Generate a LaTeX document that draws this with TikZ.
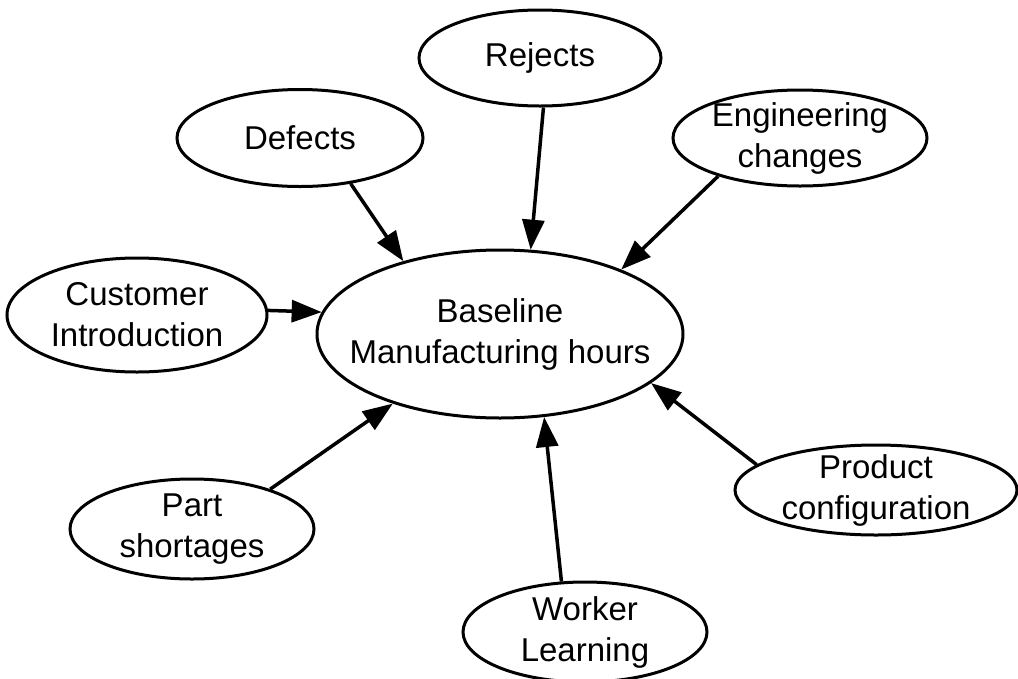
\documentclass[tikz,border=0pt]{standalone}
\usepackage{fontspec}
\setmainfont{Liberation Sans}
\usetikzlibrary{shapes.geometric,arrows.meta}
\tikzset{
  bubble/.style={ellipse, draw, line width=3pt, inner sep=0pt},
  txt/.style={align=center, inner sep=0pt, font=\fontsize{33}{41}\selectfont},
  link/.style={line width=3.5pt, -{Triangle[length=30pt,width=22pt]}}
}
\begin{document}
\begin{tikzpicture}[x=1pt,y=-1pt]
\useasboundingbox (0,0) rectangle (1018,678);
\node[bubble, minimum width=366pt, minimum height=168pt, label={[txt]center:{Baseline\\Manufacturing hours}}] (ctr) at (500,334) {};
\node[bubble, minimum width=242pt, minimum height=96pt, label={[txt]center:Rejects}] (rej) at (540,58) {};
\node[bubble, minimum width=246pt, minimum height=97pt, label={[txt]center:Defects}] (def) at (300,138) {};
\node[bubble, minimum width=254pt, minimum height=96pt, label={[txt]center:{Engineering\\changes}}] (eng) at (800,138) {};
\node[bubble, minimum width=260pt, minimum height=114pt, label={[txt]center:{Customer\\Introduction}}] (cust) at (137,315) {};
\node[bubble, minimum width=244pt, minimum height=100pt, label={[txt]center:{Part\\shortages}}] (part) at (192,529) {};
\node[bubble, minimum width=282pt, minimum height=90pt, label={[txt]center:{Product\\configuration}}] (prod) at (876,490) {};
\node[bubble, minimum width=244pt, minimum height=100pt, label={[txt]center:{Worker\\Learning}}] (work) at (585,632) {};
\draw[link] (rej.-86) -- (ctr.70);
\draw[link] (def.-42) -- (ctr.143);
\draw[link] (eng.-155) -- (ctr.28);
\draw[link] (cust.2) -- (ctr.173);
\draw[link] (part.27) -- (ctr.-147);
\draw[link] (prod.168) -- (ctr.-18);
\draw[link] (work.115) -- (ctr.-62);
\end{tikzpicture}
\end{document}
